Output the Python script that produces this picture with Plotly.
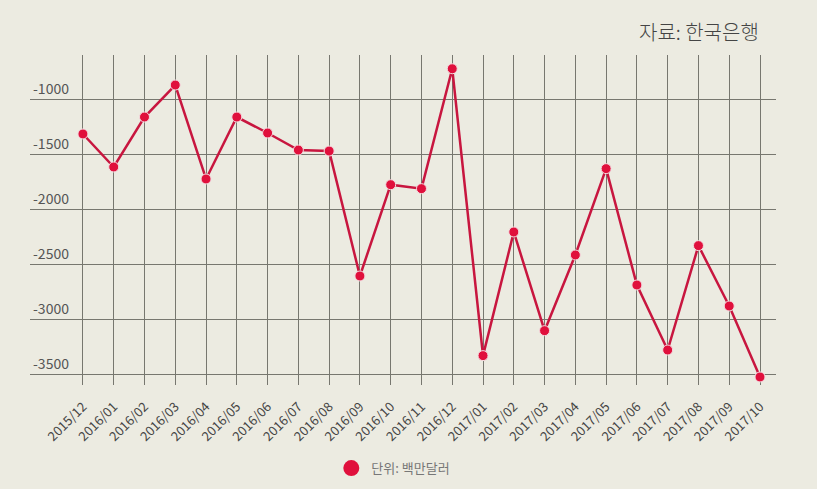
import plotly.graph_objects as go

months = ["2015/12", "2016/01", "2016/02", "2016/03", "2016/04", "2016/05", "2016/06",
          "2016/07", "2016/08", "2016/09", "2016/10", "2016/11", "2016/12", "2017/01",
          "2017/02", "2017/03", "2017/04", "2017/05", "2017/06", "2017/07", "2017/08",
          "2017/09", "2017/10"]
values = [-1318, -1618, -1164, -873, -1727, -1164, -1309, -1464, -1473, -2609, -1779,
          -1815, -725, -3333, -2209, -3106, -2418, -1633, -2691, -3282, -2333, -2882, -3527]
y_ticks = [-1000, -1500, -2000, -2500, -3000, -3500]
y_tick_text = ["-1000", "-1500", "-2000", "-2500", "-3000", "-3500"]
unit_label = "단위: 백만달러"
source_label = "자료: 한국은행"

bg = "#ECEBE1"
line_col = "#C8163F"
dot_col = "#E0103C"
grid_col = "#77776F"
font_fam = "Noto Sans CJK KR, Noto Sans, sans-serif"

fig = go.Figure()
fig.add_trace(go.Scatter(
    x=list(range(len(months))), y=values, mode="lines+markers",
    line=dict(color=line_col, width=2.5),
    marker=dict(color=dot_col, size=10, line=dict(color="#F4DCE0", width=1)),
    showlegend=False, hoverinfo="y"))
fig.add_trace(go.Scatter(
    x=[None], y=[None], mode="markers", name=unit_label,
    marker=dict(color=dot_col, size=16), showlegend=True))

fig.update_layout(
    width=817, height=489,
    paper_bgcolor=bg, plot_bgcolor=bg,
    margin=dict(l=30, r=41, t=55, b=104, autoexpand=False),
    font=dict(family=font_fam, color="#444"),
    xaxis=dict(
        range=[-1.72, 22.52], tickmode="array",
        tickvals=list(range(len(months))), ticktext=months,
        tickangle=-45, tickfont=dict(size=13, color="#444"),
        showgrid=True, gridcolor=grid_col, gridwidth=1,
        zeroline=False, showline=False, ticks="outside", ticklen=8, tickcolor=bg,
        automargin=False,
    ),
    yaxis=dict(
        range=[-3600, -600], tickmode="array", tickvals=y_ticks, ticktext=y_tick_text,
        ticklabelposition="inside top", tickfont=dict(size=14, color="#555"),
        showgrid=True, gridcolor=grid_col, gridwidth=1,
        zeroline=False, showline=False, ticks="", automargin=False,
    ),
    legend=dict(orientation="h", x=0.487, xanchor="center", y=-0.252, yanchor="middle",
                font=dict(size=13, color="#777"), bgcolor="rgba(0,0,0,0)",
                itemsizing="trace"),
    annotations=[dict(text=source_label, xref="paper", yref="paper",
                      x=(761 - 30) / (817 - 30 - 41), y=1 + 23 / 330,
                      xanchor="right", yanchor="middle", showarrow=False,
                      font=dict(size=20, color="#444", family=font_fam, weight=300))],
)

fig.write_html("out.html", config={"displayModeBar": False},
               post_script="document.body.style.margin='0';document.body.style.background='#ECEBE1';")
